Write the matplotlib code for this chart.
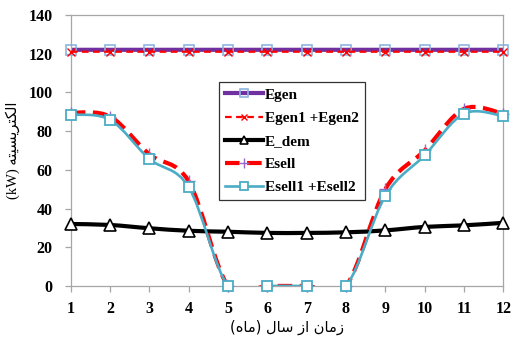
import matplotlib
matplotlib.use('Agg')
import matplotlib.pyplot as plt
import numpy as np
from matplotlib.path import Path
from matplotlib.patches import PathPatch
from matplotlib.lines import Line2D

# data
months = [1, 2, 3, 4, 5, 6, 7, 8, 9, 10, 11, 12]
egen = [122, 122, 122, 122, 122, 122, 122, 122, 122, 122, 122, 122]
egen12 = [121, 121, 121, 121, 121, 121, 121, 121, 121, 121, 121, 121]
e_dem = [32, 31.5, 29.8, 28.5, 28, 27.4, 27.4, 27.7, 28.7, 30.5, 31.3, 32.6]
esell = [89.5, 87.5, 68, 54, 0, 0, 0, 0, 50, 70, 91.5, 89]
esell12 = [88.5, 85.8, 65.6, 51, 0, 0, 0, 0, 46.5, 67.5, 89, 87.8]

labels = ['Egen', 'Egen1 +Egen2', 'E_dem', 'Esell', 'Esell1 +Esell2']

# persian labels, presentation forms in visual order
ylab = '(kW) \uFEEA\uFE98\uFEF4\uFEB4\uFEF3\uFEAE\uFE98\uFEDC\uFEDF\uFE8D'
xlab = ('(\uFEE9\uFE8E\uFEE3) \uFEDD\uFE8E\uFEB3 \uFEAF\uFE8D '
        '\uFEE5\uFE8E\uFEE3\uFEAF')


def smooth_path(x, y):
    # excel style smoothed line as cubic bezier
    p = np.column_stack([x, y]).astype(float)
    verts = [p[0]]
    codes = [Path.MOVETO]
    n = len(p)
    for i in range(n - 1):
        p0 = p[i - 1] if i > 0 else p[i]
        p3 = p[i + 2] if i + 2 < n else p[i + 1]
        c1 = p[i] + (p[i + 1] - p0) / 6
        c2 = p[i + 1] - (p3 - p[i]) / 6
        verts += [c1, c2, p[i + 1]]
        codes += [Path.CURVE4] * 3
    return Path(verts, codes)


plt.rcParams['font.family'] = ['Liberation Serif', 'DejaVu Sans']
plt.rcParams['font.weight'] = 'bold'

fig = plt.figure(figsize=(5.13, 3.40), dpi=100)
ax = fig.add_axes([0.138, 0.159, 0.843, 0.797])

purple = '#7030A0'
red = '#FF0000'
cyan = '#4BACC6'

series = [
    (egen, dict(color=purple, lw=3.0, ls='-'),
     dict(marker='s', ms=7, mfc='none', mec='#8DB4E2', mew=1.2)),
    (egen12, dict(color=red, lw=1.6, ls=(0, (3, 2))),
     dict(marker='x', ms=6, mfc='none', mec=red, mew=1.0)),
    (e_dem, dict(color='black', lw=3.0, ls='-'),
     dict(marker='^', ms=8, mfc='white', mec='black', mew=1.2)),
    (esell, dict(color=red, lw=3.0, ls=(0, (3.5, 1.8))),
     dict(marker='+', ms=9, mfc='none', mec='#9966CC', mew=1.0)),
    (esell12, dict(color=cyan, lw=1.9, ls='-'),
     dict(marker='s', ms=7, mfc='white', mec=cyan, mew=1.3)),
]

handles = []
for k, (vals, lstyle, mstyle) in enumerate(series):
    patch = PathPatch(smooth_path(months, vals), fill=False,
                      edgecolor=lstyle['color'], lw=lstyle['lw'],
                      linestyle=lstyle['ls'], zorder=2 + k)
    ax.add_patch(patch)
    ax.plot(months, vals, linestyle='none', clip_on=False, zorder=2.5 + k, **mstyle)
    hstyle = dict(mstyle)
    hstyle['ms'] = mstyle['ms'] * 0.75
    handles.append(Line2D([], [], color=lstyle['color'], lw=lstyle['lw'],
                          linestyle=lstyle['ls'], **hstyle))

ax.set_xlim(1, 12)
ax.set_ylim(0, 140)
ax.set_xticks(months)
ax.set_yticks(np.arange(0, 141, 20))
for s in ax.spines.values():
    s.set_color('#A6A6A6')
    s.set_linewidth(0.9)
ax.tick_params(axis='both', colors='#A6A6A6', length=4, width=0.9,
               labelsize=11.5, labelcolor='black')
ax.tick_params(axis='x', pad=7)
ax.tick_params(axis='y', pad=9)

ax.set_xlabel(xlab, fontsize=10.5, family=['DejaVu Sans'], labelpad=2)
ax.set_ylabel(ylab, fontsize=10.5, family=['Liberation Serif', 'DejaVu Sans'],
              labelpad=6)

leg = ax.legend(handles, labels, loc='upper left', bbox_to_anchor=(0.343, 0.753),
                numpoints=1, fancybox=False, frameon=True, handlelength=2.5,
                handletextpad=0.1, labelspacing=0.62, borderpad=0.4,
                borderaxespad=0, prop={'size': 11, 'weight': 'bold'})
leg.get_frame().set_edgecolor('black')
leg.get_frame().set_linewidth(0.9)

fig.savefig('out.png', dpi=100)
